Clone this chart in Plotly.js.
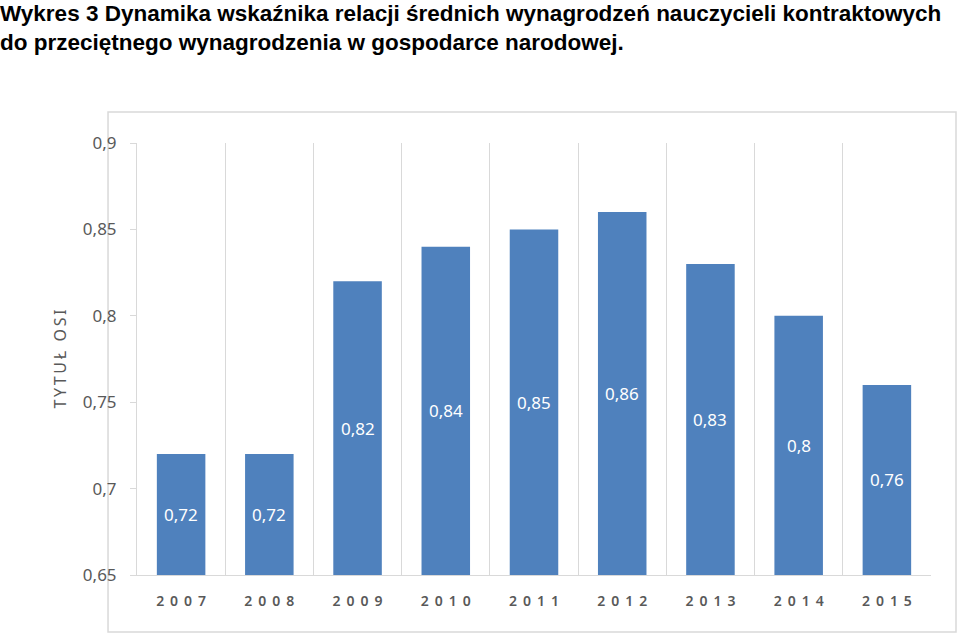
<!DOCTYPE html>
<html>
<head>
<meta charset="utf-8">
<script src="https://cdn.plot.ly/plotly-3.0.1.min.js"></script>
<style>html,body{margin:0;padding:0;background:#fff;}</style>
</head>
<body>
<div id="chart" style="width:959px;height:633px;"></div>
<script>
const years = ["2007","2008","2009","2010","2011","2012","2013","2014","2015"];
const values = [0.72, 0.72, 0.82, 0.84, 0.85, 0.86, 0.83, 0.80, 0.76];
const yTickVals = [0.65, 0.70, 0.75, 0.80, 0.85, 0.90];
const yTickText = ["0,65", "0,7", "0,75", "0,8", "0,85", "0,9"];
const titleText = "Wykres 3 Dynamika wskaźnika relacji średnich wynagrodzeń nauczycieli kontraktowych<br>do przeciętnego wynagrodzenia w gospodarce narodowej.";
const yTitle = "TYTUŁ OSI";
const yRange = [0.65, 0.9];

const spaced = (s, sep) => s.split("").join(sep);
const xTickText = years.map(y => spaced(y, "\u00a0\u2006"));
const labels = values.map(v => String(v).replace(".", ","));

const trace = {
  type: "bar",
  x: years,
  y: values,
  marker: {color: "#4F81BD"},
  hoverinfo: "x+y"
};

// value labels centred in the visible part of each bar (x = category index)
const annotations = years.map((yr, i) => ({
  x: i, y: (yRange[0] + values[i]) / 2, xref: "x", yref: "y",
  text: labels[i], showarrow: false,
  font: {family: "Noto Sans, sans-serif", size: 17, color: "#ffffff"}
}));

const layout = {
  width: 959, height: 633,
  margin: {l: 137, r: 28, t: 143, b: 58},
  paper_bgcolor: "#ffffff", plot_bgcolor: "#ffffff",
  separators: ",.",
  bargap: 0.45,
  showlegend: false,
  title: {
    text: titleText,
    x: 0, xref: "container", xanchor: "left",
    y: 0.967, yref: "container", yanchor: "top",
    pad: {t: 0, l: 0},
    font: {family: "Liberation Sans, Arial, sans-serif", size: 22.5, color: "#000000", weight: "bold"}
  },
  xaxis: {
    type: "category",
    range: [-0.5, years.length - 0.5],
    tickmode: "array", tickvals: years, ticktext: xTickText,
    tickson: "boundaries",
    showgrid: true, gridcolor: "#d9d9d9", gridwidth: 1,
    ticks: "", showline: true, linecolor: "#d9d9d9", linewidth: 1,
    tickfont: {family: "Noto Sans, sans-serif", size: 14, color: "#595959", weight: 600},
    ticklabelstandoff: 13,
    zeroline: false
  },
  yaxis: {
    range: yRange,
    tickmode: "array", tickvals: yTickVals, ticktext: yTickText,
    showgrid: false, zeroline: false,
    ticks: "outside", ticklen: 6, tickcolor: "#d9d9d9",
    showline: true, linecolor: "#d9d9d9", linewidth: 1,
    tickfont: {family: "Noto Sans, sans-serif", size: 17, color: "#595959"},
    ticklabelstandoff: 10,
    title: {text: spaced(yTitle, "\u2009"), standoff: 12,
            font: {family: "Noto Sans, sans-serif", size: 16, color: "#595959"}}
  },
  annotations: annotations,
  shapes: [{
    type: "rect", xref: "paper", yref: "paper", layer: "below",
    x0: -0.0365, x1: 1.0315, y0: -0.132, y1: 1.0718,
    line: {color: "#d9d9d9", width: 1.5}, fillcolor: "rgba(0,0,0,0)"
  }]
};

Plotly.newPlot("chart", [trace], layout, {displayModeBar: false, staticPlot: true});
</script>
</body>
</html>
